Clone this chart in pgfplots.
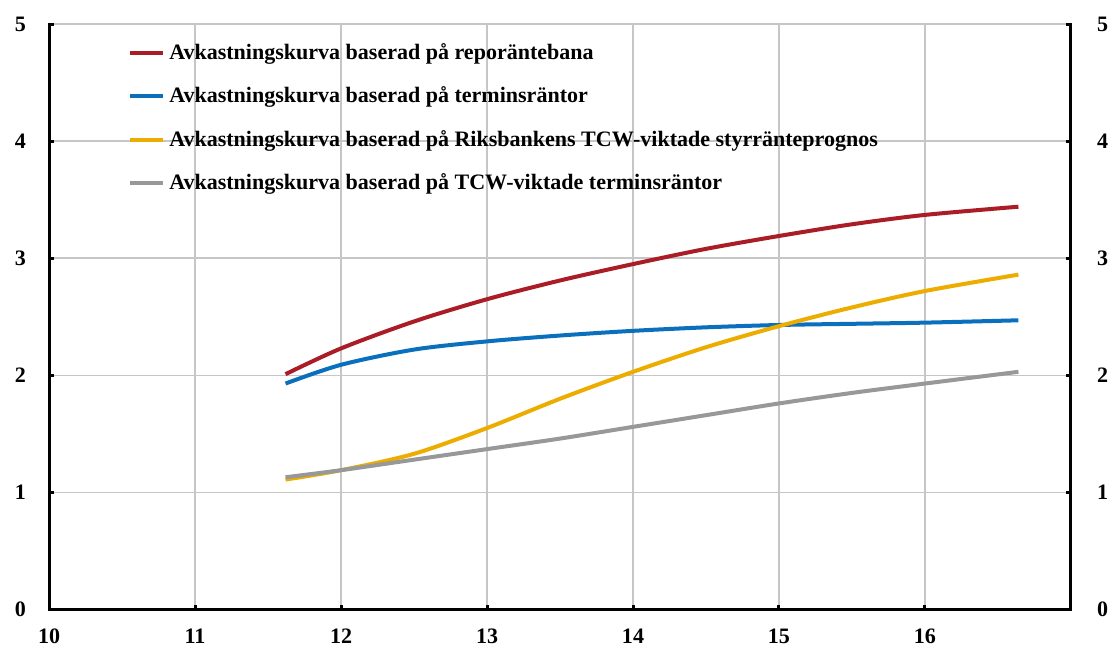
\documentclass[border=0pt]{standalone}
\usepackage{pgfplots}
\pgfplotsset{compat=1.18}
\usepackage{fontspec}
\setmainfont{Liberation Serif}
\definecolor{cred}{RGB}{170,28,38}
\definecolor{cblue}{RGB}{10,112,190}
\definecolor{cyellow}{RGB}{236,172,0}
\definecolor{cgray}{RGB}{150,152,154}
\begin{document}
\begin{tikzpicture}
\pgfplotsset{
  common/.style={
    scale only axis, width=510.5pt, height=292.5pt,
    xmin=10, xmax=17, ymin=0, ymax=5,
    ytick={0,1,2,3,4,5},
    /pgf/number format/assume math mode=true,
    tick label style={font=\bfseries\fontsize{11}{13}\selectfont},
    axis line style={line width=1.5pt, line cap=rect},
    major tick length=2.5pt,
    tick style={black, line width=1.5pt},
  }
}
\begin{axis}[common, name=ax,
  axis x line*=bottom, axis y line*=left,
  xtick={10,11,12,13,14,15,16},
  tick align=inside,
  grid=major, major grid style={gray!45, line width=0.8pt},
  yticklabel style={xshift=-8pt},
  xticklabel style={yshift=-6pt},
  legend style={draw=none, fill=none, at={(axis cs:10.54,4.875)}, anchor=north west,
    font=\bfseries\fontsize{11}{13}\selectfont, row sep=8.3pt, inner sep=0pt,
    /tikz/every even column/.append style={column sep=0pt}},
  legend cell align=left,
  legend image code/.code={\draw[#1, line width=2pt] (0pt,0pt) -- (16.5pt,0pt);},
]
\addplot[cred, line width=2pt, smooth, tension=0.5] coordinates {
(11.62,2.01) (12,2.23) (12.5,2.46) (13,2.65) (13.5,2.81) (14,2.95) (14.5,3.08) (15,3.19) (15.5,3.29) (16,3.37) (16.64,3.44)};
\addlegendentry{Avkastningskurva baserad på reporäntebana}
\addplot[cblue, line width=2pt, smooth, tension=0.5] coordinates {
(11.62,1.93) (12,2.09) (12.5,2.22) (13,2.29) (13.5,2.34) (14,2.38) (14.5,2.41) (15,2.43) (15.5,2.44) (16,2.45) (16.64,2.47)};
\addlegendentry{Avkastningskurva baserad på terminsräntor}
\addplot[cyellow, line width=2pt, smooth, tension=0.5] coordinates {
(11.62,1.11) (12,1.19) (12.5,1.33) (13,1.55) (13.5,1.80) (14,2.03) (14.5,2.24) (15,2.42) (15.5,2.58) (16,2.72) (16.64,2.86)};
\addlegendentry{Avkastningskurva baserad på Riksbankens TCW-viktade styrränteprognos}
\addplot[cgray, line width=2pt, smooth, tension=0.5] coordinates {
(11.62,1.13) (12,1.19) (12.5,1.28) (13,1.37) (13.5,1.46) (14,1.56) (14.5,1.66) (15,1.76) (15.5,1.85) (16,1.93) (16.64,2.03)};
\addlegendentry{Avkastningskurva baserad på TCW-viktade terminsräntor}
\end{axis}
\begin{axis}[common,
  axis x line=none, axis y line*=right,
  tick align=inside,
  yticklabel style={xshift=9.5pt},
]
\end{axis}
\pgfresetboundingbox
\path[use as bounding box] ([xshift=-24.5pt,yshift=-22pt]ax.south west) rectangle ([xshift=20pt,yshift=12pt]ax.north east);
\end{tikzpicture}
\end{document}
